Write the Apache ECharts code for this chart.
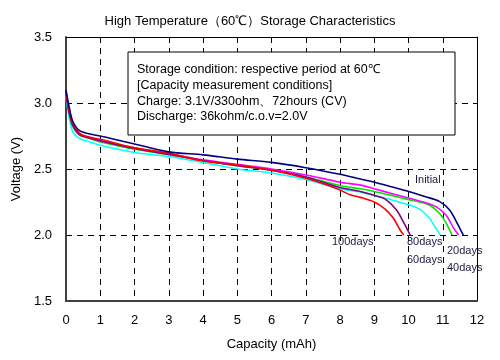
<!DOCTYPE html>
<html>
<head>
<meta charset="utf-8">
<script src="https://cdn.jsdelivr.net/npm/echarts@6/dist/echarts.min.js"></script>
<style>
html,body{margin:0;padding:0;background:#fff;}
#c{width:500px;height:360px;}
</style>
</head>
<body>
<div id="c"></div>
<script>
var titleText = 'High Temperature（60℃）Storage Characteristics';
var xTicks = [0,1,2,3,4,5,6,7,8,9,10,11,12];
var yTicks = [1.5,2.0,2.5,3.0,3.5];

var seriesNames = ['Initial','20days','40days','60days','80days','100days'];

var initial = [[0,3.10],[0.1,2.96],[0.2,2.86],[0.4,2.79],[0.7,2.765],[1,2.75],[1.5,2.72],[2,2.69],[3,2.63],[4,2.607],[5,2.575],[6,2.55],[7,2.51],[8,2.46],[8.6,2.424],[9,2.40],[9.5,2.365],[10,2.33],[10.5,2.29],[10.9,2.255],[11.2,2.19],[11.4,2.10],[11.5,2.05],[11.6,2.0]];
var days20 = [[0,3.07],[0.1,2.92],[0.2,2.83],[0.4,2.76],[0.7,2.735],[1,2.71],[2,2.66],[3,2.615],[4,2.57],[5,2.535],[6,2.5],[7,2.455],[8,2.4],[8.6,2.378],[9,2.35],[9.5,2.315],[10,2.28],[10.5,2.245],[10.8,2.215],[11.1,2.15],[11.3,2.06],[11.46,2.0]];
var days40 = [[0,3.06],[0.1,2.91],[0.2,2.82],[0.4,2.755],[0.7,2.73],[1,2.705],[2,2.65],[3,2.61],[4,2.565],[5,2.525],[6,2.49],[7,2.44],[8,2.375],[8.6,2.35],[9,2.33],[9.5,2.3],[10,2.268],[10.6,2.228],[10.9,2.165],[11.1,2.09],[11.27,2.0]];
var days60 = [[0,3.05],[0.1,2.88],[0.2,2.78],[0.4,2.73],[0.7,2.705],[1,2.68],[2,2.625],[3,2.595],[4,2.55],[5,2.5],[6,2.47],[7,2.42],[8,2.35],[8.6,2.325],[9,2.3],[9.7,2.252],[10.3,2.2],[10.6,2.13],[10.8,2.05],[10.93,2.0]];
var days80 = [[0,3.07],[0.1,2.92],[0.2,2.83],[0.4,2.76],[0.7,2.735],[1,2.715],[2,2.655],[3,2.61],[4,2.565],[5,2.525],[6,2.49],[7,2.44],[8,2.36],[8.6,2.33],[9,2.3],[9.3,2.275],[9.65,2.19],[9.85,2.1],[10.05,2.0]];
var days100 = [[0,3.09],[0.1,2.94],[0.2,2.85],[0.4,2.77],[0.7,2.74],[1,2.725],[2,2.66],[3,2.62],[4,2.56],[5,2.53],[6,2.49],[7,2.43],[7.5,2.39],[8,2.34],[8.3,2.305],[8.6,2.285],[9,2.25],[9.3,2.2],[9.55,2.13],[9.75,2.04],[9.86,2.0]];

var infoLines = [
  'Storage condition: respective period at 60℃',
  '[Capacity measurement conditions]',
  'Charge: 3.1V/330ohm、72hours (CV)',
  'Discharge: 36kohm/c.o.v=2.0V'
];

var FONT = '"Liberation Sans", Arial, sans-serif';
var chart = echarts.init(document.getElementById('c'), null, {renderer:'canvas'});

function mk(name, data, color, z){
  return {name:name, type:'line', data:data, showSymbol:false, smooth:0.3, z:z,
    lineStyle:{color:color, width:1.6}, itemStyle:{color:color}, animation:false};
}

var labelStyle = {fill:'#1a1a40', font:'11px ' + FONT};

var option = {
  animation:false,
  backgroundColor:'#fff',
  title:{text:titleText, left:'center', top:10, textStyle:{fontSize:13, fontWeight:'normal', color:'#000', fontFamily:FONT}},
  grid:{left:66, right:23, top:37, bottom:59},
  xAxis:[{
    type:'value', min:0, max:12, interval:1,
    name:'Capacity (mAh)', nameLocation:'middle', nameGap:37,
    nameTextStyle:{fontSize:13, color:'#000', fontFamily:FONT},
    axisLine:{show:true, lineStyle:{color:'#404040', width:2}},
    axisTick:{show:false},
    axisLabel:{fontSize:13, color:'#000', margin:13, fontFamily:FONT},
    splitLine:{show:true, lineStyle:{color:'#000', type:[6,5], width:1}}
  },{
    type:'value', min:0, max:12, interval:1, position:'top',
    axisLine:{show:true, onZero:false, lineStyle:{color:'#000', width:1}},
    axisTick:{show:false}, axisLabel:{show:false}, splitLine:{show:false}
  }],
  yAxis:[{
    type:'value', min:1.5, max:3.5, interval:0.5,
    name:'Voltage (V)', nameLocation:'middle', nameGap:35, nameRotate:90,
    nameTextStyle:{fontSize:13, color:'#000', fontFamily:FONT},
    axisLine:{show:true, lineStyle:{color:'#404040', width:2}},
    axisTick:{show:false},
    axisLabel:{fontSize:13, color:'#000', margin:14, fontFamily:FONT, formatter:function(v){return v.toFixed(1);}},
    splitLine:{show:true, lineStyle:{color:'#000', type:[6,5], width:1}}
  },{
    type:'value', min:1.5, max:3.5, interval:0.5, position:'right',
    axisLine:{show:true, onZero:false, lineStyle:{color:'#000', width:1}},
    axisTick:{show:false}, axisLabel:{show:false}, splitLine:{show:false}
  }],
  series:[
    mk(seriesNames[3], days60, '#00FFFF', 2),
    mk(seriesNames[2], days40, '#00E600', 3),
    mk(seriesNames[1], days20, '#FF00FF', 4),
    mk(seriesNames[4], days80, '#800080', 5),
    mk(seriesNames[5], days100, '#FF0000', 6),
    mk(seriesNames[0], initial, '#000080', 7)
  ],
  graphic:[
    {type:'rect', shape:{x:128, y:52, width:327, height:83}, style:{fill:'#fff', stroke:'#000', lineWidth:1}, z:100},
    {type:'text', x:137, y:62, style:{text:infoLines.join('\n'), fill:'#000', font:'12.5px ' + FONT, lineHeight:15.7}, z:101},
    {type:'text', x:415, y:174, style:Object.assign({text:seriesNames[0]}, labelStyle), z:101},
    {type:'text', x:332, y:236, style:Object.assign({text:seriesNames[5]}, labelStyle), z:101},
    {type:'text', x:407, y:236, style:Object.assign({text:seriesNames[4]}, labelStyle), z:101},
    {type:'text', x:407, y:254, style:Object.assign({text:seriesNames[3]}, labelStyle), z:101},
    {type:'text', x:447, y:245, style:Object.assign({text:seriesNames[1]}, labelStyle), z:101},
    {type:'text', x:447, y:262, style:Object.assign({text:seriesNames[2]}, labelStyle), z:101}
  ]
};
chart.setOption(option);
</script>
</body>
</html>
